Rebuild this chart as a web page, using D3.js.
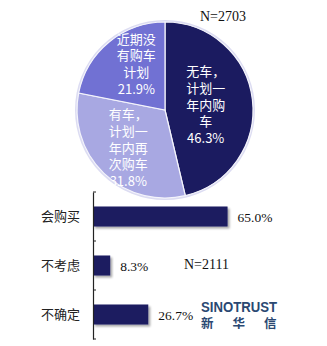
<!DOCTYPE html>
<html>
<head>
<meta charset="utf-8">
<script src="https://cdn.jsdelivr.net/npm/d3@7/dist/d3.min.js"></script>
<style>
  body { margin: 0; background: #fff; }
  svg { display: block; }
</style>
</head>
<body>
<div class="plot"></div>
<script>
// DATA
var pieValues = [46.3, 31.8, 21.9];
var pieLabels = [
  ["无车，", "计划一", "年内购", "车"],
  ["有车，", "计划一", "年内再", "次购车"],
  ["近期没", "有购车", "计划"]
];
var pieN = "N=2703";

var barCats = ["会购买", "不考虑", "不确定"];
var barValues = [65.0, 8.3, 26.7];
var barN = "N=2111";

// LAYOUT
var w = 327;
var h = 346;
var cx = 165, cy = 110, r = 88;
var pieColors = ["#1b1b60", "#a8a8e2", "#7171d3"];
var labelRadius = [41, 53, 53];
var labelNudge = [0, 0, 5];
var barColor = "#1b1b60";
var cjk = "'Noto Sans CJK SC', sans-serif";
var serif = "'Liberation Serif', 'DejaVu Serif', serif";

var svg = d3.select(".plot").append("svg").attr("width", w).attr("height", h);

var defs = svg.append("defs");
var shadow = defs.append("filter").attr("id", "shadow")
  .attr("x", "-10%").attr("y", "-20%").attr("width", "130%").attr("height", "160%");
shadow.append("feGaussianBlur").attr("in", "SourceAlpha").attr("stdDeviation", 1.2);
shadow.append("feOffset").attr("dx", 2).attr("dy", 2).attr("result", "off");
shadow.append("feComponentTransfer").append("feFuncA").attr("type", "linear").attr("slope", 0.35);
var merge = shadow.append("feMerge");
merge.append("feMergeNode");
merge.append("feMergeNode").attr("in", "SourceGraphic");

// PIE
var pie = d3.pie().sort(null).value(function (d) { return d; });
var arcs = pie(pieValues);
var arc = d3.arc().innerRadius(0).outerRadius(r);

var pg = svg.append("g").attr("transform", "translate(" + cx + "," + cy + ")");

pg.append("circle").attr("r", r + 1).attr("fill", "none")
  .attr("stroke", "#dcdcf2").attr("stroke-width", 2);

pg.selectAll("path")
  .data(arcs)
  .enter()
  .append("path")
  .attr("d", arc)
  .attr("fill", function (d, i) { return pieColors[i]; })
  .attr("stroke", "#f4f4fb")
  .attr("stroke-width", 1.2);

pg.selectAll("text.pie-label")
  .data(arcs)
  .enter()
  .append("text")
  .attr("class", "pie-label")
  .attr("text-anchor", "middle")
  .attr("fill", "#fff")
  .attr("font-family", cjk)
  .attr("font-size", "13px")
  .each(function (d, i) {
    var c = d3.arc().innerRadius(0).outerRadius(labelRadius[i] * 2).centroid(d);
    var lines = pieLabels[i].concat([d.value.toFixed(1) + "%"]);
    var y0 = c[1] - (lines.length - 1) * 16.7 / 2 + 4.5 - labelNudge[i];
    var t = d3.select(this);
    lines.forEach(function (s, k) {
      t.append("tspan").attr("x", c[0] + labelNudge[i]).attr("y", y0 + k * 16.7).text(s);
    });
  });

svg.append("text")
  .attr("x", 200).attr("y", 21)
  .attr("font-family", serif).attr("font-size", "14px")
  .attr("fill", "#111")
  .text(pieN);

// BARS
var x0 = 93;
var xScale = d3.scaleLinear().domain([0, 100]).range([0, 207]);
var yScale = d3.scaleBand().domain(barCats).range([192, 339]);

var bg = svg.append("g").attr("transform", "translate(" + x0 + ",0)");

bg.selectAll("rect")
  .data(barValues)
  .enter()
  .append("rect")
  .attr("x", 0)
  .attr("y", function (d, i) { return yScale(barCats[i]) + yScale.bandwidth() / 2 - 10; })
  .attr("width", function (d) { return xScale(d); })
  .attr("height", 20)
  .attr("fill", barColor)
  .attr("filter", "url(#shadow)");

bg.selectAll("text.val")
  .data(barValues)
  .enter()
  .append("text")
  .attr("class", "val")
  .attr("x", function (d) { return xScale(d) + 10; })
  .attr("y", function (d, i) { return yScale(barCats[i]) + yScale.bandwidth() / 2 + 5; })
  .attr("font-family", serif)
  .attr("font-size", "13.5px")
  .attr("fill", "#111")
  .text(function (d) { return d.toFixed(1) + "%"; });

// axis
var yAxis = d3.axisLeft(yScale).tickSize(0).tickPadding(13);
var ax = svg.append("g")
  .attr("transform", "translate(" + x0 + ",0)")
  .call(yAxis);
ax.select(".domain").attr("stroke", "#222").attr("stroke-width", 1.2);
ax.selectAll("text")
  .attr("font-family", cjk)
  .attr("font-size", "13px")
  .attr("fill", "#222");

// band boundary ticks
var edges = barCats.map(function (c) { return yScale(c); }).concat([yScale.range()[1]]);
ax.selectAll("line.edge")
  .data(edges)
  .enter()
  .append("line")
  .attr("class", "edge")
  .attr("x1", 0).attr("x2", 3)
  .attr("y1", function (d) { return d; })
  .attr("y2", function (d) { return d; })
  .attr("stroke", "#222");

svg.append("text")
  .attr("x", 184).attr("y", 269)
  .attr("font-family", serif).attr("font-size", "14px")
  .attr("fill", "#111")
  .text(barN);

// logo
var logo = svg.append("g").attr("fill", "#2a4872");
logo.append("text")
  .attr("x", 201).attr("y", 312)
  .attr("font-family", "'Liberation Sans', Arial, sans-serif")
  .attr("font-weight", "bold").attr("font-size", "14px")
  .attr("textLength", 76).attr("lengthAdjust", "spacingAndGlyphs")
  .text("SINOTRUST");
["新", "华", "信"].forEach(function (s, i) {
  logo.append("text")
    .attr("x", 201 + i * 31.5).attr("y", 328)
    .attr("font-family", cjk)
    .attr("font-weight", "bold").attr("font-size", "12.5px")
    .text(s);
});
</script>
</body>
</html>
